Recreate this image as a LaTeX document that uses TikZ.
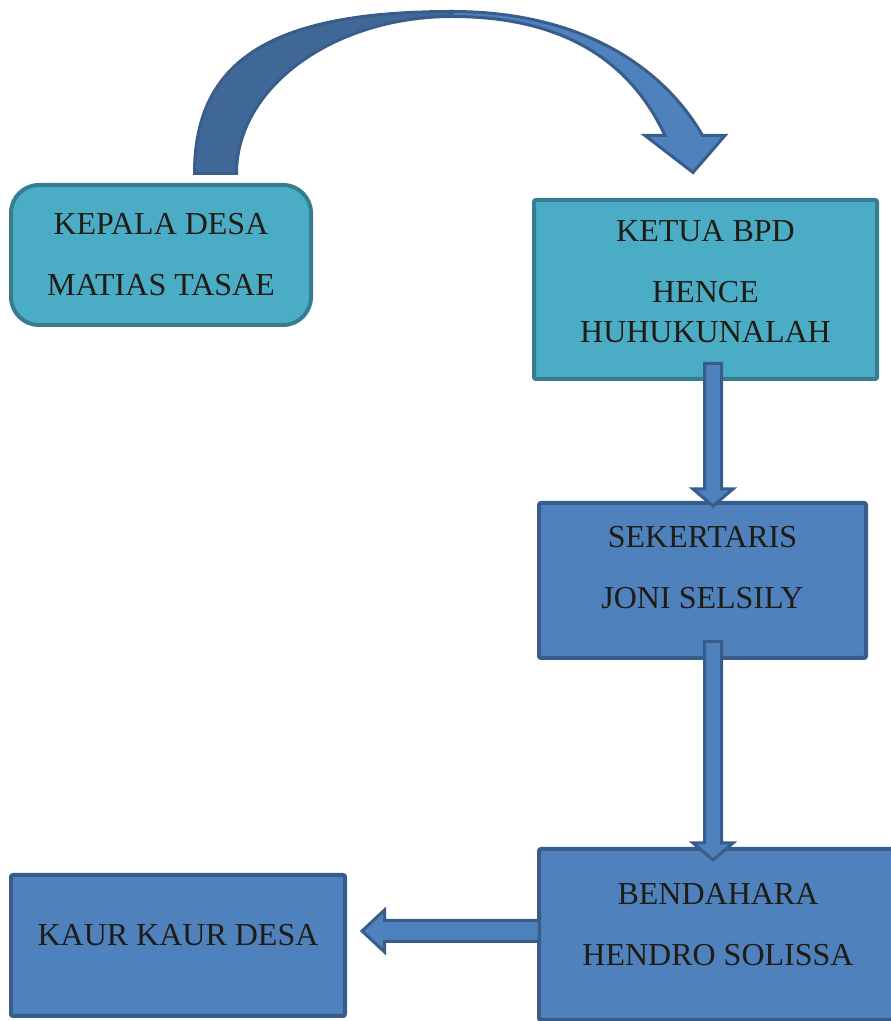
\documentclass[tikz,border=0pt]{standalone}
\usepackage{fontspec}
\setmainfont{Liberation Serif}
\usepackage{xcolor}
\usetikzlibrary{positioning, calc}
\definecolor{biruIsi}{HTML}{4F81BD}
\definecolor{biruGaris}{HTML}{385D8A}
\definecolor{biruGelap}{HTML}{3F6899}
\definecolor{tosqaIsi}{HTML}{4BACC6}
\definecolor{tosqaGaris}{HTML}{367D91}
\definecolor{tinta}{HTML}{1E1C14}
\newcommand{\panahTurun}[2]{
\draw[panah] let \p1=(#1), \p2=(#2) in ({\x1-8.5pt},\y1) -- ({\x1-8.5pt},{\y2+17pt}) -- ({\x1-20pt},{\y2+17pt}) -- (\x1,\y2) -- ({\x1+20pt},{\y2+17pt}) -- ({\x1+8.5pt},{\y2+17pt}) -- ({\x1+8.5pt},\y1) -- cycle;
}
\newcommand{\panahKiri}[2]{
\draw[panah] let \p1=(#1), \p2=(#2) in (\x1,{\y1+10.5pt}) -- ({\x2+22.5pt},{\y1+10.5pt}) -- ({\x2+22.5pt},{\y1+21pt}) -- (\x2,\y1) -- ({\x2+22.5pt},{\y1-21pt}) -- ({\x2+22.5pt},{\y1-10.5pt}) -- (\x1,{\y1-10.5pt}) -- cycle;
}
\begin{document}
\begin{tikzpicture}[x = 1pt, y = 1pt,
    kotak/.style = {draw = biruGaris, fill = biruIsi, line width = 4pt, rounded corners = 2pt},
    kotakTosqa/.style = {draw = tosqaGaris, fill = tosqaIsi, line width = 4pt, rounded corners = 2pt},
    teks/.style = {font = \fontsize{32}{40}\selectfont, text = tinta, align = center, inner sep = 0pt},
    panah/.style = {fill = biruIsi, draw = biruGaris, line width = 3pt}]
    \useasboundingbox (0,0) rectangle (891,1021);
    \clip (0,0) rectangle (891,1021);
    % Kotak
    \node[kotakTosqa, rounded corners = 28pt, minimum width = 300pt, minimum height = 140pt] (kepala) at (161,766) {};
    \node[kotakTosqa, minimum width = 343pt, minimum height = 179pt] (ketua) at (705.5,731.5) {};
    \node[kotak, minimum width = 327pt, minimum height = 155pt] (sekertaris) at (702.5,440.5) {};
    \node[kotak, minimum width = 358pt, minimum height = 171pt] (bendahara) at (718,86.5) {};
    \node[kotak, minimum width = 334pt, minimum height = 141pt] (kaur) at (178,75.5) {};
    % Teks
    \node[teks, below = 30pt of kepala.north] (kepala-teks) {KEPALA DESA\\[21pt]MATIAS TASAE};
    \node[teks, below = 22.5pt of ketua.north] (ketua-teks) {KETUA BPD\\[21pt]HENCE\\HUHUKUNALAH};
    \node[teks, below = 25.5pt of sekertaris.north] (sekertaris-teks) {SEKERTARIS\\[21pt]JONI SELSILY};
    \node[teks, below = 36pt of bendahara.north] (bendahara-teks) {BENDAHARA\\[21pt]HENDRO SOLISSA};
    \node[teks, below = 51.5pt of kaur.north] (kaur-teks) {KAUR KAUR DESA};
    % Panah lengkung
    \coordinate (kaki) at ([xshift = 54.5pt, yshift = 9.5pt]kepala.north);
    \begin{scope}[shift = {(kaki)}]
        \draw[panah, fill = biruGelap] (-21,0) .. controls (-21,113.4) and (56.25,162) .. (236.5,162) -- (236.5,157) .. controls (118,157) and (21,86.35) .. (21,0) -- cycle;
        \draw[panah] (236.5,162) .. controls (376.5,162) and (453.3,97.2) .. (487,38) -- (509.5,38) -- (477.5,1) -- (429.5,38) -- (449.5,38) .. controls (420.1,100.9) and (361.5,157) .. (236.5,157) -- cycle;
    \end{scope}
    % Panah lurus
    \coordinate (a1) at ([xshift = 7.5pt, yshift = 17.5pt]ketua.south);
    \coordinate (b1) at ([xshift = 10.5pt, yshift = -5pt]sekertaris.north);
    \panahTurun{a1}{b1}
    \coordinate (a2) at ([xshift = 10.5pt, yshift = 18.5pt]sekertaris.south);
    \coordinate (b2) at ([xshift = -5pt, yshift = -13pt]bendahara.north);
    \panahTurun{a2}{b2}
    \coordinate (a3) at ([xshift = 2pt, yshift = 3.5pt]bendahara.west);
    \coordinate (b3) at ([xshift = 15pt, yshift = 14.5pt]kaur.east);
    \panahKiri{a3}{b3}
\end{tikzpicture}
\end{document}
